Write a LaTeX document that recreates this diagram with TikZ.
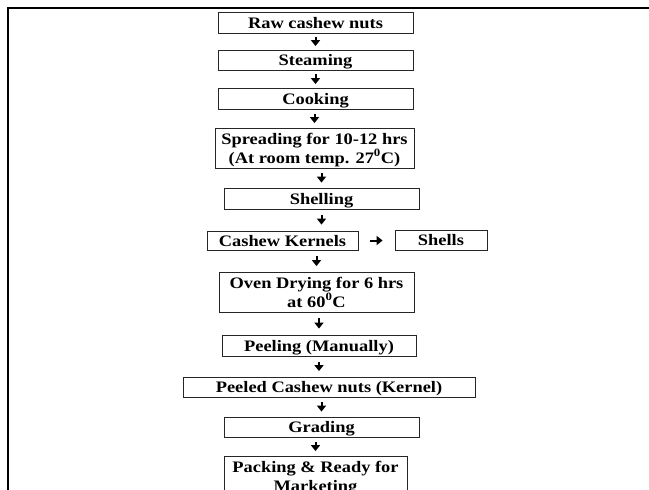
\documentclass[tikz,border=0pt]{standalone}
\usepackage{fontspec}
\setmainfont{Liberation Serif}[FakeStretch=1.15]
\usetikzlibrary{arrows.meta}

\begin{document}
\begin{tikzpicture}[x=1pt, y=-1pt,
		box/.style={draw=black!85, line width=.8pt, inner sep=0pt, align=center,
			font=\fontsize{16}{19}\selectfont\bfseries, text height=11pt, text depth=0pt,
			minimum width=195pt, minimum height=21pt},
		twolines/.style={text height=30pt, minimum height=40pt},
		flow/.style={line width=2pt, -{Triangle[length=6pt, width=9pt]}, shorten <=#1, shorten >=#1},
		flow/.default=4pt]
				\useasboundingbox (0,0) rectangle (649,490);
				\clip (0,0) rectangle (649,490);
				\draw[line width=2.5pt] (8,490) -- (8,8) -- (649,8);
				\node[box] (raw) at (315.5,22.5) {Raw cashew nuts};
				\node[box, minimum height=20pt] (steam) at (315.5,60) {Steaming};
				\node[box] (cook) at (315.5,98.5) {Cooking};
				\node[box, twolines, minimum width=199pt] (spread) at (314.5,148) {Spreading for 10-12 hrs\\(At room temp. 27\textsuperscript{0}C)};
				\node[box] (shell) at (321.5,198.5) {Shelling};
				\node[box, minimum width=151pt, minimum height=19pt] (kern) at (282.5,240.5) {Cashew Kernels};
				\node[box, minimum width=92pt, minimum height=20pt] (shells) at (441,240) {Shells};
				\node[box, twolines] (oven) at (316.5,292) {Oven Drying for 6 hrs\\at 60\textsuperscript{0}C};
				\node[box, minimum width=194pt] (peel) at (319,345.5) {Peeling (Manually)};
				\node[box, minimum width=292pt, minimum height=20pt] (peeled) at (329,387) {Peeled Cashew nuts (Kernel)};
				\node[box, minimum height=20pt] (grade) at (321.5,427) {Grading};
				\node[box, twolines, minimum width=183pt] (pack) at (315.5,476) {Packing \& Ready for\\Marketing};
				\foreach \a/\b/\s in {raw/steam/3.5pt, steam/cook/3.5pt, cook/spread/4.5pt, spread/shell/5pt, kern/oven/5.5pt, oven/peel/6pt, peeled/grade/5pt, grade/pack/4.5pt} {
					\draw[flow=\s] (\a.south -| \b) -- (\b.north);
				}
				\draw[flow=6pt] (shell.south) -- (shell.south |- kern.north);
				\draw[flow=5.5pt] (peel.south) -- (peel.south |- peeled.north);
				\draw[flow=12pt] (kern.east) -- (kern.east -| shells.west);
			\end{tikzpicture}
\end{document}
